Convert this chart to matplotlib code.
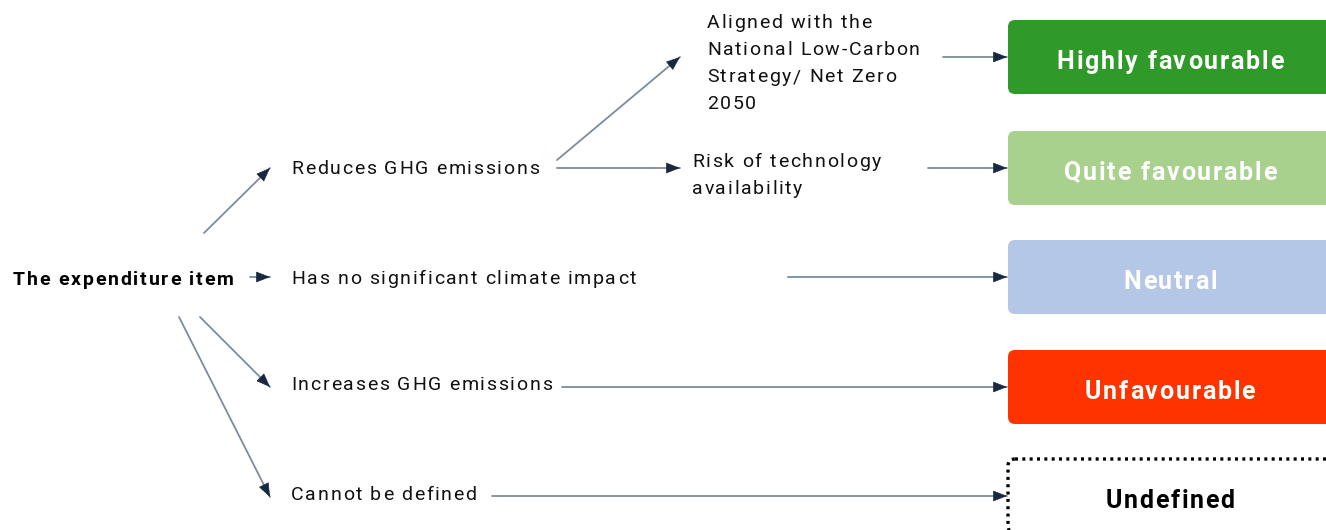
import matplotlib.pyplot as plt
from matplotlib.patches import FancyBboxPatch, FancyArrowPatch
from matplotlib import font_manager
from matplotlib.ft2font import FT2Font

plt.rcParams['font.family'] = ['Roboto', 'DejaVu Sans']

# left column
root_label = 'The expenditure item'
impacts = ['Reduces GHG emissions', 'Has no significant climate impact',
           'Increases GHG emissions', 'Cannot be defined']

# second branch under "Reduces GHG emissions"
aligned_lines = ['Aligned with the', 'National Low-Carbon', 'Strategy/ Net Zero', '2050']
risk_lines = ['Risk of technology', 'availability']

# result boxes
results = ['Highly favourable', 'Quite favourable', 'Neutral',
           'Unfavourable', 'Undefined']
result_colors = ['#2f9a29', '#a9d18e', '#b4c7e7', '#ff3300', 'white']
result_text = ['white', 'white', 'white', 'white', 'black']

# layout (pixels, y down)
impact_base = [174, 284, 390, 500]
box_mid = [57, 168, 277, 387, 496]

line_c = '#7d8c9b'
head_c = '#182840'
DPI = 100

fig = plt.figure(figsize=(13.26, 5.30), dpi=DPI)
ax = fig.add_axes([0, 0, 1, 1])
ax.set_xlim(0, 1326)
ax.set_ylim(530, 0)
ax.axis('off')


def tracked(x, y, s, size, weight='normal', color='#111111', track=1.8, ha='left'):
    # draw text letter by letter with extra spacing (baseline at y)
    path = font_manager.findfont(font_manager.FontProperties(family='Roboto', weight=weight))
    f = FT2Font(path)
    f.set_size(size, DPI)
    adv = [f.load_char(ord(c)).linearHoriAdvance / 65536 for c in s]
    total = sum(adv) + track * (len(s) - 1)
    if ha == 'center':
        x -= total / 2
    for c, a in zip(s, adv):
        if c != ' ':
            ax.text(x, y, c, fontsize=size, fontweight=weight,
                    color=color, ha='left', va='baseline', family='Roboto')
        x += a + track


def arrow(x0, y0, x1, y1):
    ax.add_patch(FancyArrowPatch((x0, y0), (x1, y1), arrowstyle='-', lw=1.3,
                                 color=line_c, shrinkA=0, shrinkB=0))
    dx, dy = x1 - x0, y1 - y0
    n = (dx * dx + dy * dy) ** 0.5
    hx, hy = x1 - dx / n * 10, y1 - dy / n * 10
    ax.add_patch(FancyArrowPatch((hx, hy), (x1, y1),
                                 arrowstyle='-|>,head_length=9,head_width=3.5',
                                 lw=0.5, color=head_c, shrinkA=0, shrinkB=0))


tracked(13, 285, root_label, 14, weight='bold', color='black', track=1.8)

for lab, yb in zip(impacts, impact_base):
    tracked(291, yb, lab, 14, track=1.7)

for i, lab in enumerate(aligned_lines):
    tracked(707, 28 + 27 * i, lab, 14, track=1.7)
for i, lab in enumerate(risk_lines):
    tracked(692, 167 + 27 * i, lab, 14, track=1.7)

for lab, fc, tc, ym in zip(results, result_colors, result_text, box_mid):
    if fc == 'white':
        box = FancyBboxPatch((1008, ym - 37), 340, 74,
                             boxstyle='round,pad=0,rounding_size=7',
                             fc='white', ec='black', lw=2.4, ls=(0, (0.9, 1.3)))
    else:
        box = FancyBboxPatch((1008, ym - 37), 340, 74,
                             boxstyle='round,pad=0,rounding_size=7',
                             fc=fc, ec='none')
    ax.add_patch(box)
    tracked(1170, ym + 12, lab, 18, weight='bold', color=tc, track=1.8, ha='center')

# arrows from root
arrow(204, 233, 270, 168)
arrow(250, 277, 270, 277)
arrow(200, 317, 270, 387)
arrow(179, 317, 270, 497)

# arrows from "Reduces"
arrow(557, 160, 680, 57)
arrow(557, 168, 680, 168)

# arrows into boxes
arrow(943, 57, 1007, 57)
arrow(928, 168, 1007, 168)
arrow(788, 277, 1007, 277)
arrow(562, 387, 1007, 387)
arrow(492, 496, 1007, 496)

fig.savefig('out.png', dpi=DPI)
